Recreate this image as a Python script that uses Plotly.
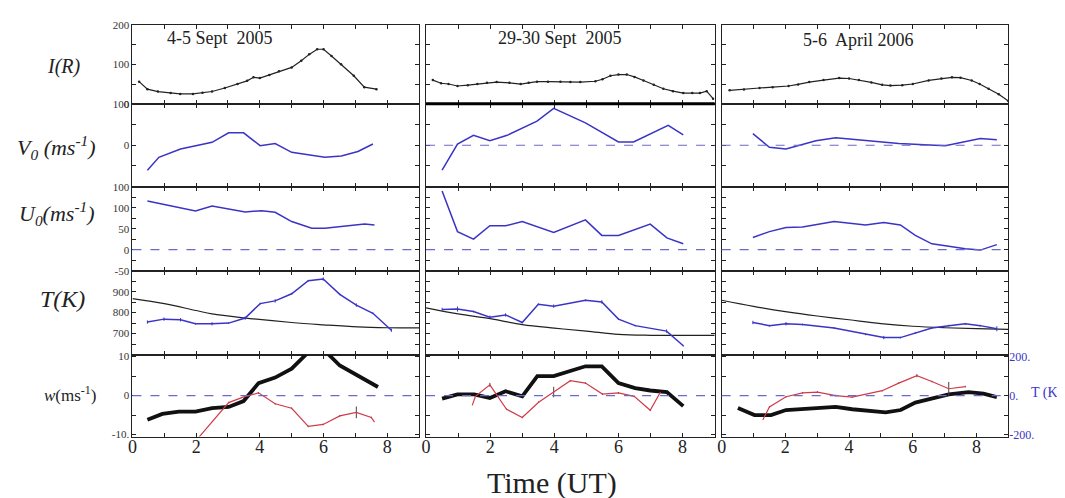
import plotly.graph_objects as go

W, H = 1065, 498

# ---------------- data ----------------
titles = ["4-5 Sept  2005", "29-30 Sept  2005", "5-6  April 2006"]

# I(R) intensity (R)
ir_t = [
    [0.21, 0.47, 0.8, 1.2, 1.5, 1.9, 2.2, 2.5, 2.9, 3.3, 3.6, 3.8, 4.0, 4.3, 4.6, 5.0, 5.3, 5.55, 5.8, 6.0, 6.25, 6.55, 6.95, 7.28, 7.66],
    [0.21, 0.47, 0.7, 0.98, 1.3, 1.6, 1.9, 2.2, 2.6, 2.95, 3.2, 3.46, 3.8, 4.19, 4.5, 4.81, 5.28, 5.5, 5.75, 6.0, 6.26, 6.5, 6.78, 7.1, 7.4, 7.7, 8.02, 8.3, 8.54, 8.75, 8.95],
    [0.25, 0.7, 1.19, 1.6, 2.1, 2.4, 2.75, 3.2, 3.69, 4.0, 4.31, 4.7, 5.04, 5.3, 5.67, 6.0, 6.5, 6.9, 7.23, 7.5, 7.85, 8.1, 8.38, 8.7, 9.0],
]
ir_v = [
    [56, 37, 31, 27, 25, 25, 28, 31, 40, 50, 58, 67, 65, 73, 82, 92, 109, 125, 138, 138, 121, 100, 71, 42, 37],
    [60, 52, 50, 45, 47, 50, 53, 55, 53, 50, 53, 56, 56, 56, 55, 55, 57, 62, 71, 74, 74, 68, 59, 48, 38, 32, 27, 27, 27, 32, 13],
    [34, 36, 40, 42, 45, 49, 55, 60, 65, 64, 60, 54, 48, 46, 47, 50, 59, 64, 67, 66, 59, 50, 38, 24, 7],
]

# V0 meridional wind (m/s)
v0_t = [
    [0.47, 0.83, 1.51, 2.5, 3.02, 3.49, 4.01, 4.48, 5.0, 6.04, 6.56, 7.08, 7.55],
    [0.5, 0.98, 1.48, 1.99, 2.53, 3.46, 3.98, 4.97, 6.0, 6.47, 7.55, 8.02],
    [0.98, 1.5, 2.02, 2.96, 3.58, 4.52, 5.56, 7.02, 8.12, 8.64],
]
v0_v = [
    [-60, -29, -9, 7, 30, 30, -1, 4, -17, -29, -26, -15, 3],
    [-60, 3, 24, 11, 24, 58, 89, 54, 8, 8, 48, 25],
    [28, -5, -9, 11, 18, 11, 4, -1, 16, 13],
]

# U0 zonal wind (m/s)
u0_t = [
    [0.47, 1.98, 2.5, 3.54, 4.06, 4.48, 5.0, 5.63, 6.04, 6.98, 7.29, 7.6],
    [0.5, 0.98, 1.48, 1.99, 2.48, 3.0, 3.98, 4.97, 5.48, 6.0, 6.99, 7.51, 8.02],
    [0.98, 1.5, 2.02, 2.54, 3.53, 4.52, 5.09, 5.61, 6.08, 6.6, 7.13, 7.65, 8.12, 8.64],
]
u0_v = [
    [116, 92, 104, 90, 93, 89, 67, 51, 51, 59, 61, 59],
    [140, 43, 25, 57, 57, 67, 41, 71, 34, 34, 61, 28, 14],
    [29, 43, 53, 54, 67, 59, 65, 59, 34, 14, 8, 2, -1, 12],
]

# T measured (K)
tm_t = [
    [0.47, 0.99, 1.51, 1.98, 2.5, 3.02, 3.54, 4.01, 4.48, 5.0, 5.52, 5.99, 6.51, 7.03, 7.55, 8.13],
    [0.5, 0.98, 1.48, 1.99, 2.48, 3.0, 3.5, 3.98, 4.97, 5.48, 6.0, 6.52, 7.5, 8.02],
    [0.98, 1.5, 2.02, 2.54, 3.53, 4.52, 5.09, 5.61, 6.08, 6.6, 7.13, 7.65, 8.12, 8.64],
]
tm_v = [
    [755, 769, 766, 747, 747, 750, 774, 843, 856, 890, 952, 960, 887, 836, 797, 716],
    [815, 817, 805, 778, 789, 753, 840, 831, 859, 851, 769, 738, 712, 642],
    [753, 738, 747, 743, 727, 696, 681, 681, 704, 727, 738, 747, 738, 723],
]
tm_err = [
    [8, 8, 8, 4, 8, 4, 8, 4, 8, 4, 4, 8, 4, 8, 4, 8],
    [8, 12, 4, 8, 8, 4, 4, 8, 4, 8, 4, 4, 8, 4],
    [8, 4, 8, 4, 4, 4, 8, 4, 4, 4, 4, 4, 4, 12],
]

# T model (K)
tmod_t = [
    [0, 1, 2, 2.5, 3.5, 5, 6, 7.08, 8, 9],
    [0, 1, 2, 3, 4, 5, 6, 7, 8, 9],
    [0, 1, 2, 3, 4, 5, 6, 7, 8, 9],
]
tmod_v = [
    [867, 843, 810, 794, 775, 753, 742, 732, 728, 727],
    [823, 794, 771, 743, 726, 712, 696, 692, 692, 692],
    [859, 830, 805, 784, 766, 748, 735, 728, 724, 720],
]

# w vertical wind (m/s)
w_t = [
    [0.47, 0.94, 1.46, 1.98, 2.5, 3.02, 3.49, 3.96, 4.48, 5.0, 5.57, 6.04, 6.51, 7.03, 7.71],
    [0.5, 0.98, 1.5, 1.99, 2.48, 3.0, 3.47, 3.98, 4.97, 5.48, 6.0, 6.52, 6.99, 7.51, 8.02],
    [0.51, 1.03, 1.55, 2.02, 3.58, 4.1, 5.15, 5.62, 6.08, 6.6, 7.13, 7.75, 8.22, 8.64],
]
w_v = [
    [-6.2, -4.7, -4.1, -4.1, -3.2, -2.9, -1.4, 3.2, 4.6, 6.9, 11.5, 11.5, 7.7, 5.2, 2.2],
    [-0.8, 0.3, 0.3, -0.6, 1.1, -0.2, 5.0, 5.0, 7.5, 7.5, 3.2, 1.9, 1.3, 0.9, -2.7],
    [-3.2, -5.0, -5.0, -3.7, -2.9, -3.5, -4.3, -3.7, -1.8, -0.7, 0.3, 0.9, 0.5, -0.4],
]

# T perturbation (K), right-hand scale
dt_t = [
    [2.0, 3.02, 3.54, 3.96, 4.48, 5.0, 5.52, 5.99, 6.51, 7.03, 7.5, 7.6],
    [1.44, 1.54, 1.99, 2.51, 3.0, 3.51, 3.98, 4.5, 4.97, 5.5, 6.0, 6.49, 6.99, 7.31],
    [1.29, 1.5, 2.02, 2.54, 3.01, 3.58, 4.1, 5.04, 5.56, 6.13, 6.6, 7.13, 7.65],
]
dt_v = [
    [-230, -36, -4, 14, -42, -65, -158, -148, -104, -86, -112, -136],
    [-50, -4, 55, -70, -112, -34, 18, 76, 64, 8, 14, -4, -75, 18],
    [-125, -58, -6, 14, 18, 0, -8, 25, 64, 102, 72, 35, 46],
]
dt_err = [
    [0, 4, 4, 4, 4, 4, 4, 4, 4, 30, 4, 0],
    [0, 0, 10, 4, 4, 4, 27, 4, 4, 4, 4, 4, 4, 0],
    [0, 4, 4, 4, 4, 4, 4, 4, 4, 8, 4, 35, 4],
]

row_labels = ["<i>I(R)</i>",
              "<i>V<sub>0</sub> (ms<sup>-1</sup>)</i>",
              "<i>U<sub>0</sub>(ms<sup>-1</sup>)</i>",
              "<i>T(K)</i>",
              "<i>w</i>(ms<sup>-1</sup>)"]

# y-axis tick settings per row
row_range = [[0, 200], [-100, 100], [-50, 150], [600, 1000], [-10.5, 10.5]]
row_major = [[0, 100, 200], [-100, 0, 100], [-50, 0, 50, 100], [700, 800, 900], [-10, 0, 10]]
row_major_text = [["0", "100", "200"], ["100", "0", "100"], ["-50", "0", "50", "100"],
                  ["700", "800", "900"], ["-10.", "0", "10"]]
row_minor = [50, 50, 25, 50, 5]
row_minor0 = [0, 0, 0, 600, 0]

x_major = [0, 2, 4, 6, 8]

# ---------------- layout geometry (pixels) ----------------
col_l = [120, 415, 712]
col_r = [408, 705, 1000]
row_t = [11, 92, 177, 263, 349]
row_b = [92, 177, 263, 349, 433]

BLUE = "#3a34c6"
RED = "#d23a4a"
DASH = "#6a6acc"
SERIF = "Liberation Serif"
INK = "#222"

fig = go.Figure()
layout = dict(
    width=W, height=H,
    margin=dict(l=0, r=0, t=0, b=0),
    paper_bgcolor="white", plot_bgcolor="white",
    showlegend=False,
    font=dict(family=SERIF, color=INK),
)


def ax(idx):
    return ("x" if idx == 1 else f"x{idx}"), ("y" if idx == 1 else f"y{idx}")


shapes = []
for r in range(5):
    for c in range(3):
        idx = r * 3 + c + 1
        xn, yn = ax(idx)
        xkey = "xaxis" if idx == 1 else f"xaxis{idx}"
        ykey = "yaxis" if idx == 1 else f"yaxis{idx}"
        layout[xkey] = dict(
            domain=[col_l[c] / W, col_r[c] / W], range=[0, 9], anchor=yn,
            tickvals=x_major, ticktext=[str(v) for v in x_major],
            showticklabels=(r == 4), ticklabelstandoff=-6,
            tickfont=dict(family=SERIF, size=18, color=INK),
            ticks="inside", ticklen=4, tickcolor=INK, mirror="allticks",
            minor=dict(dtick=1, tick0=0, ticks="inside", ticklen=4, tickcolor=INK),
            showline=True, linecolor=INK, linewidth=1.1,
            showgrid=False, zeroline=False, fixedrange=True,
        )
        layout[ykey] = dict(
            domain=[1 - row_b[r] / H, 1 - row_t[r] / H], anchor=xn,
            range=row_range[r], tickvals=row_major[r], ticktext=row_major_text[r],
            showticklabels=(c == 0),
            tickfont=dict(family=SERIF, size=11, color="#333"),
            ticks="inside", ticklen=4, tickcolor=INK, mirror="allticks",
            minor=dict(dtick=row_minor[r], tick0=row_minor0[r], ticks="inside",
                       ticklen=4, tickcolor=INK),
            showline=True, linecolor=INK, linewidth=1.1,
            showgrid=False, zeroline=False, fixedrange=True,
        )
        # dashed zero reference lines
        if r in (2, 4) or (r == 1 and c > 0):
            shapes.append(dict(type="line", xref=f"{xn} domain", yref=yn,
                               x0=0, x1=1, y0=0, y1=0,
                               line=dict(color=DASH, width=1.2, dash="dash")))

# heavy top border of the middle V0 panel
shapes.append(dict(type="line", xref="x5 domain", yref="y5 domain",
                   x0=0, x1=1, y0=1, y1=1, line=dict(color="#000", width=3)))

# secondary axes for T perturbation in the w row
for c in range(3):
    idx = 16 + c
    base = 13 + c
    xn, yn = ax(base)
    layout[f"yaxis{idx}"] = dict(
        overlaying=yn, anchor=xn, side="right", range=[-210, 210],
        tickvals=[-200, 0, 200], ticktext=["-200.", "0.", "200."],
        showticklabels=(c == 2), ticks="",
        tickfont=dict(family=SERIF, size=12, color=BLUE),
        showline=False, showgrid=False, zeroline=False, fixedrange=True,
    )

for c in range(3):
    # I(R)
    xn, yn = ax(1 + c)
    fig.add_trace(go.Scatter(x=ir_t[c], y=ir_v[c], xaxis=xn, yaxis=yn, mode="lines+markers",
                             line=dict(color=INK, width=1.2),
                             marker=dict(color=INK, size=2.5)))
    # V0
    xn, yn = ax(4 + c)
    fig.add_trace(go.Scatter(x=v0_t[c], y=v0_v[c], xaxis=xn, yaxis=yn, mode="lines",
                             line=dict(color=BLUE, width=1.5)))
    # U0
    xn, yn = ax(7 + c)
    fig.add_trace(go.Scatter(x=u0_t[c], y=u0_v[c], xaxis=xn, yaxis=yn, mode="lines",
                             line=dict(color=BLUE, width=1.5)))
    # T model + measured
    xn, yn = ax(10 + c)
    fig.add_trace(go.Scatter(x=tmod_t[c], y=tmod_v[c], xaxis=xn, yaxis=yn, mode="lines",
                             line=dict(color=INK, width=1.2, shape="spline")))
    fig.add_trace(go.Scatter(x=tm_t[c], y=tm_v[c], xaxis=xn, yaxis=yn, mode="lines",
                             line=dict(color=BLUE, width=1.5),
                             error_y=dict(type="data", array=tm_err[c], color=BLUE,
                                          thickness=1, width=0)))
    # w and T perturbation
    xn, yn = ax(13 + c)
    fig.add_trace(go.Scatter(x=dt_t[c], y=dt_v[c], xaxis=xn, yaxis=f"y{16 + c}", mode="lines",
                             line=dict(color=RED, width=1.2),
                             error_y=dict(type="data", array=dt_err[c], color="#444",
                                          thickness=1, width=0)))
    fig.add_trace(go.Scatter(x=w_t[c], y=w_v[c], xaxis=xn, yaxis=yn, mode="lines",
                             line=dict(color="#111", width=3.8)))

annotations = []


def px_ann(text, x, y, size, color=INK, xanchor="center"):
    annotations.append(dict(text=text, x=x / W, y=1 - y / H, xref="paper", yref="paper",
                            showarrow=False, xanchor=xanchor, yanchor="middle",
                            borderpad=0,
                            font=dict(family=SERIF, size=size, color=color)))


label_x = [51, 44, 44, 50, 57]
label_y = [54, 137, 204, 292, 389]
label_size = [20, 22, 22, 24, 17]
for i in range(5):
    px_ann(row_labels[i], label_x[i], label_y[i], label_size[i])

title_x = [208, 550, 849]
title_y = [25, 25, 27]
for c in range(3):
    px_ann(titles[c], title_x[c], title_y[c], 18)

px_ann("T (K", 1036, 388, 14, color=BLUE)
px_ann("Time (UT)", 542, 481, 30)

layout["annotations"] = annotations
layout["shapes"] = shapes
fig.update_layout(**layout)

fig.write_html("out.html")
